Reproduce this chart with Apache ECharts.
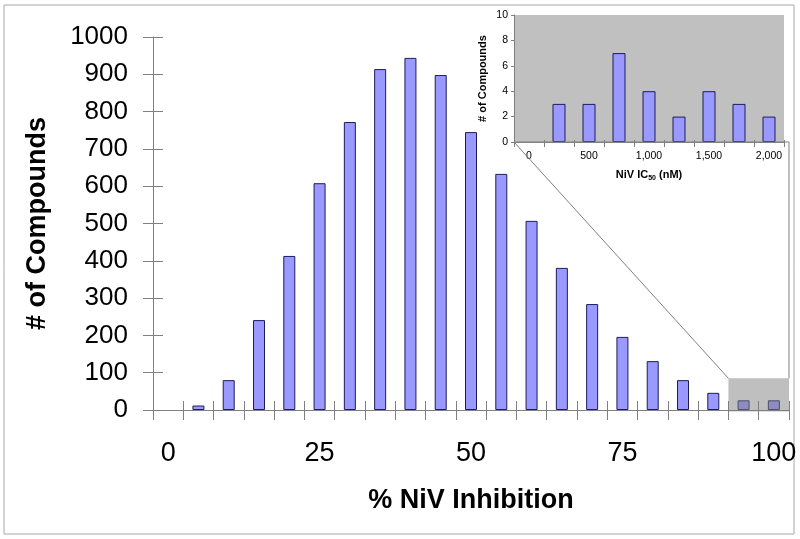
<!DOCTYPE html>
<html><head><meta charset="utf-8">
<script src="https://cdn.jsdelivr.net/npm/echarts/dist/echarts.min.js"></script>
<style>html,body{margin:0;padding:0;background:#fff}#c{width:800px;height:539px}</style>
</head><body><div id="c"></div>
<script>
// ---- data ----
const inhibitionCategories = ['0','5','10','15','20','25','30','35','40','45','50','55','60','65','70','75','80','85','90','95','100'];
const inhibitionCounts = [0,12,80,241,413,608,772,914,944,898,745,633,507,381,284,196,131,80,46,26,26];
const mainYMin = 0, mainYMax = 1000, mainYStep = 100;
const ic50Categories = ['0','250','500','750','1,000','1,250','1,500','1,750','2,000'];
const ic50Counts = [0,3,3,7,4,2,4,3,2];
const insetYMin = 0, insetYMax = 10, insetYStep = 2;
const zoomedCategories = ['95','100'];
const zoomedCountTop = 85;

const FONT = 'Liberation Sans, Arial, sans-serif';
const AX = '#808080';
const noZero = arr => arr.map(v => (v === 0 ? '-' : v));
const chart = echarts.init(document.getElementById('c'), null, {renderer:'canvas'});

const option = {
  animation: false,
  backgroundColor: '#ffffff',
  textStyle: {fontFamily: FONT, color: '#000'},
  grid: [
    {left: 153, right: 11, top: 37, bottom: 129, containLabel: false},
    {left: 514, right: 16, top: 15, bottom: 397, containLabel: false, show: true, backgroundColor: '#c0c0c0', borderWidth: 0}
  ],
  xAxis: [
    {type: 'category', gridIndex: 0, data: inhibitionCategories, position: 'bottom',
     axisLine: {lineStyle: {color: AX, width: 1}},
     axisTick: {show: true, length: 10, interval: 0, lineStyle: {color: AX}},
     axisLabel: {interval: 4, fontSize: 27, color: '#000', fontFamily: FONT, margin: 30},
     name: '% NiV Inhibition', nameLocation: 'middle', nameGap: 77,
     nameTextStyle: {fontSize: 27, fontWeight: 'bold', color: '#000', fontFamily: FONT}},
    {type: 'category', gridIndex: 0, data: inhibitionCategories, position: 'bottom',
     axisLine: {show: false}, axisLabel: {show: false},
     axisTick: {show: true, inside: true, length: 9, interval: 0, lineStyle: {color: AX}}},
    {type: 'category', gridIndex: 1, data: ic50Categories, position: 'bottom',
     axisLine: {lineStyle: {color: AX, width: 1}},
     axisTick: {show: true, length: 5, interval: 0, lineStyle: {color: AX}},
     axisLabel: {interval: 1, fontSize: 10.5, color: '#000', fontFamily: FONT, margin: 9},
     name: '{a|NiV IC}{s|50}{a| (nM)}', nameLocation: 'middle', nameGap: 27,
     nameTextStyle: {fontFamily: FONT, rich: {
       a: {fontSize: 11, fontWeight: 'bold', color: '#000', fontFamily: FONT, verticalAlign: 'bottom'},
       s: {fontSize: 7, fontWeight: 'bold', color: '#000', fontFamily: FONT, verticalAlign: 'bottom', padding: [0,0,-2,0]}
     }}},
    {type: 'category', gridIndex: 1, data: ic50Categories, position: 'bottom',
     axisLine: {show: false}, axisLabel: {show: false},
     axisTick: {show: true, inside: true, length: 2, interval: 0, lineStyle: {color: AX}}}
  ],
  yAxis: [
    {type: 'value', gridIndex: 0, min: mainYMin, max: mainYMax, interval: mainYStep, position: 'left',
     axisLine: {show: true, lineStyle: {color: AX, width: 1}},
     axisTick: {show: true, length: 10, lineStyle: {color: AX}},
     splitLine: {show: false},
     axisLabel: {fontSize: 26, color: '#000', fontFamily: FONT, margin: 25, formatter: v => String(v)},
     name: '# of Compounds', nameLocation: 'middle', nameGap: 102,
     nameTextStyle: {fontSize: 27, fontWeight: 'bold', color: '#000', fontFamily: FONT}},
    {type: 'value', gridIndex: 0, min: mainYMin, max: mainYMax, interval: mainYStep, position: 'left',
     axisLine: {show: false}, axisLabel: {show: false}, splitLine: {show: false},
     axisTick: {show: true, inside: true, length: 10, lineStyle: {color: AX}}},
    {type: 'value', gridIndex: 1, min: insetYMin, max: insetYMax, interval: insetYStep, position: 'left',
     axisLine: {show: true, lineStyle: {color: AX, width: 1}},
     axisTick: {show: true, length: 3, lineStyle: {color: AX}},
     splitLine: {show: false},
     axisLabel: {fontSize: 10.5, color: '#000', fontFamily: FONT, margin: 6, formatter: v => String(v)},
     name: '# of Compounds', nameLocation: 'middle', nameGap: 26,
     nameTextStyle: {fontSize: 11, fontWeight: 'bold', color: '#000', fontFamily: FONT}}
  ],
  series: [
    {type: 'bar', xAxisIndex: 0, yAxisIndex: 0, data: noZero(inhibitionCounts), barWidth: 12,
     itemStyle: {color: '#9999ff', borderColor: '#1c1c5a', borderWidth: 1}},
    {type: 'bar', xAxisIndex: 2, yAxisIndex: 2, data: noZero(ic50Counts), barWidth: 13,
     itemStyle: {color: '#9999ff', borderColor: '#1c1c5a', borderWidth: 1}}
  ]
};
chart.setOption(option);

// zoom box and connector lines, positioned through the axes' scales
const i0 = inhibitionCategories.indexOf(zoomedCategories[0]);
const i1 = inhibitionCategories.indexOf(zoomedCategories[1]);
const m = {xAxisIndex: 0, yAxisIndex: 0};
const pA = chart.convertToPixel(m, [i0, zoomedCountTop]);
const pB = chart.convertToPixel(m, [i1, 0]);
const pN = chart.convertToPixel(m, [i0 + 1, 0]);
const band = pN[0] - pA[0];
const bx0 = pA[0] - band / 2, bx1 = pB[0] + band / 2, by0 = pA[1], by1 = pB[1] + 1.5;
const n = {xAxisIndex: 2, yAxisIndex: 2};
const q0 = chart.convertToPixel(n, [0, 0]);
const q1 = chart.convertToPixel(n, [1, 0]);
const band2 = q1[0] - q0[0];
const insetLeft = q0[0] - band2 / 2, insetBottom = q0[1];

chart.setOption({
  graphic: [
    {type: 'rect', silent: true, z: 0, shape: {x: 4, y: 5, width: 790, height: 529},
     style: {fill: 'none', stroke: '#a8a8a8', lineWidth: 1}},
    {type: 'rect', silent: true, z: 100, shape: {x: bx0, y: by0, width: bx1 - bx0, height: by1 - by0},
     style: {fill: 'rgba(128,128,128,0.5)', stroke: 'none'}},
    {type: 'polyline', silent: true, z: 100, shape: {points: [[bx0, by0], [insetLeft, insetBottom]]},
     style: {stroke: AX, lineWidth: 1, fill: 'none'}},
    {type: 'polyline', silent: true, z: 100, shape: {points: [[bx1, by0], [bx1, insetBottom], [insetLeft, insetBottom]]},
     style: {stroke: AX, lineWidth: 1, fill: 'none'}}
  ]
});
</script></body></html>
